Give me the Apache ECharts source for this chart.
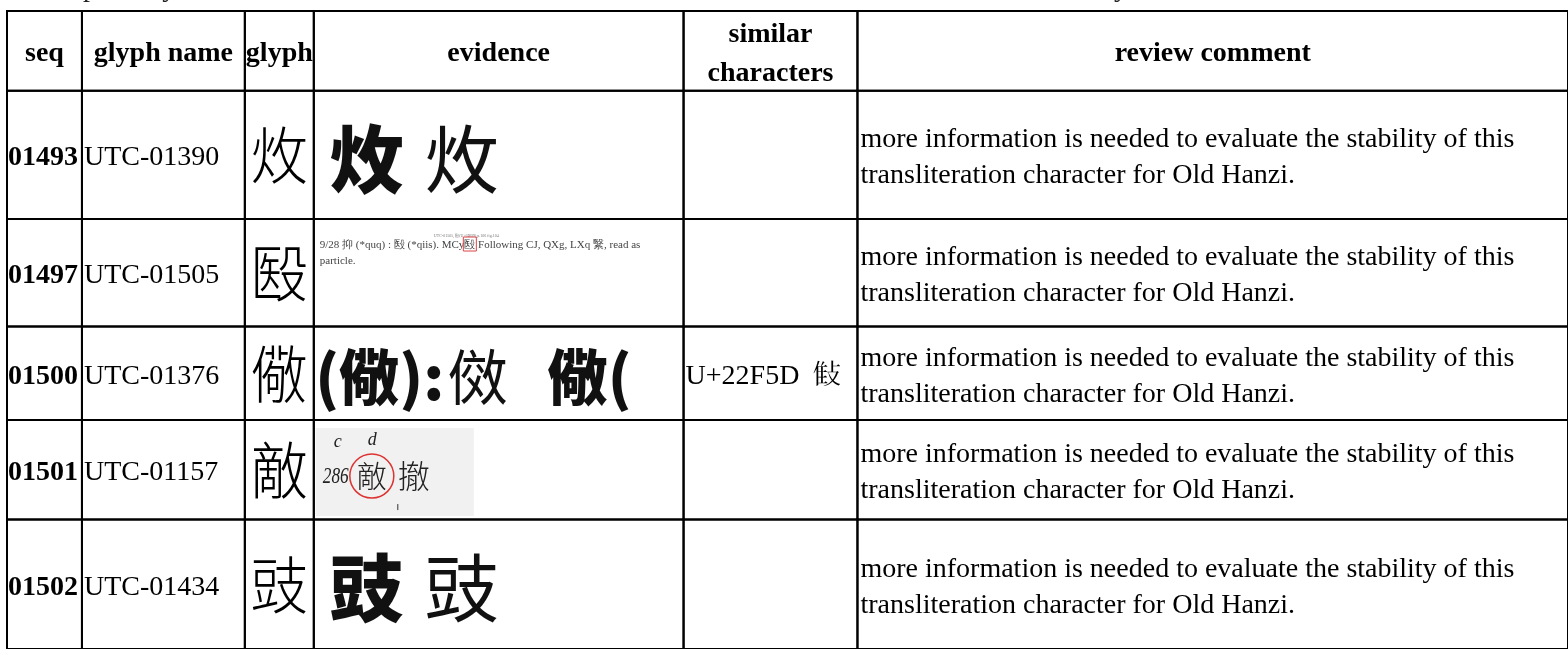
<!DOCTYPE html>
<html><head><meta charset="utf-8">
<script src="https://cdn.jsdelivr.net/npm/echarts@6/dist/echarts.min.js"></script>
<style>html,body{margin:0;padding:0;background:#fff;overflow:hidden}#c{width:1568px;height:649px}</style>
</head><body><div id="c"></div>
<script>
// ---- data ----
const headers = ['seq', 'glyph name', 'glyph', 'evidence', 'similar\ncharacters', 'review comment'];
const seqs = ['01493', '01497', '01500', '01501', '01502'];
const glyphNames = ['UTC-01390', 'UTC-01505', 'UTC-01376', 'UTC-01157', 'UTC-01434'];
const glyphs = ['炇', '殹', '儆', '敵', '豉'];
const evidencePieces = [['炇', '炇'], [], ['(儆):', '傚', '儆('], [], ['豉', '豉']];
const evidenceSnippet = ['', '9/28 抑 (*quq) : 殹 (*qiis). MCy殹 Following CJ, QXg, LXq 繄, read as\nparticle.', '', '', ''];
const snippetMark = ['', '9/28 抑 (*quq) : 殹 (*qiis). MCy', '', '', ''];
const snippetCaption = ['', 'UTC-01505, 殹(U+6BB9) p.106 fig.104', '', '', ''];
const scanTexts = ['', '', '', ['c', 'd', '286', '敵', '撤'], ''];
const similarChars = ['', '', 'U+22F5D  \u{22F5D}', '', ''];
const comments = [
  'more information is needed to evaluate the stability of this transliteration character for Old Hanzi.',
  'more information is needed to evaluate the stability of this transliteration character for Old Hanzi.',
  'more information is needed to evaluate the stability of this transliteration character for Old Hanzi.',
  'more information is needed to evaluate the stability of this transliteration character for Old Hanzi.',
  'more information is needed to evaluate the stability of this transliteration character for Old Hanzi.'
];
const aboveText = 'possibly the same character as the above: more information is needed to evaluate the stability';

// ---- layout (table units = px) ----
const colEdges = [0, 75, 238, 307, 677, 851, 1562];
const rowEdges = [0, 80, 209, 317, 411, 511, 641];
const evidencePieceOffsets = [[53, 148], [], [66, 164, 276], [], [53, 148]];
const evidencePieceBold = [[true, false], [], [true, false, true], [], [true, false]];

const SERIF = '"Liberation Serif", "Times New Roman", serif';
const CJK = '"Noto Sans CJK TC", "Noto Sans CJK SC", "Noto Sans CJK JP", sans-serif';
const MIX = '"Liberation Serif", "Noto Sans CJK TC", "Noto Sans CJK JP", serif';

const measureCtx = document.createElement('canvas').getContext('2d');
function textW(t, font) { measureCtx.font = font; return measureCtx.measureText(t).width; }

const cells = [];
for (let r = 0; r <= seqs.length; r++) for (let c = 0; c < headers.length; c++) cells.push([c, r]);

function renderCell(params, api) {
  const c = api.value(0), r = api.value(1);
  const p0 = api.coord([colEdges[c], rowEdges[r]]);
  const p1 = api.coord([colEdges[c + 1], rowEdges[r + 1]]);
  const x0 = p0[0], y0 = p0[1], w = p1[0] - p0[0], h = p1[1] - p0[1];
  const cx = x0 + w / 2, cy = y0 + h / 2 + 3;
  const ch = [];
  ch.push({ type: 'rect', shape: { x: x0, y: y0, width: w, height: h }, style: { fill: 'none', stroke: '#000', lineWidth: 2 }, z2: 10 });
  function txt(text, x, y, font, extra, el) {
    ch.push(Object.assign({ type: 'text', x: x, y: y, style: Object.assign({ text: text, font: font, fill: '#000', align: 'left', verticalAlign: 'middle', textAlign: 'left', textVerticalAlign: 'middle' }, extra || {}) }, el || {}));
  }
  if (r === 0) {
    txt(headers[c], cx, cy, 'bold 28px ' + SERIF, { align: 'center', textAlign: 'center', lineHeight: 39 });
  } else {
    const i = r - 1;
    if (c === 0) txt(seqs[i], x0 + 1, cy, 'bold 28px ' + SERIF);
    else if (c === 1) txt(glyphNames[i], x0 + 2, cy, '28px ' + SERIF);
    else if (c === 2) txt(glyphs[i], cx, cy - 2, '300 62px ' + CJK, { align: 'center', textAlign: 'center' }, { scaleX: 0.92 });
    else if (c === 3) {
      const pcs = evidencePieces[i];
      pcs.forEach(function (p, k) {
        txt(p, x0 + evidencePieceOffsets[i][k], cy + 1, (evidencePieceBold[i][k] ? '900 ' : '400 ') + (pcs.length > 2 ? 60 : 74) + 'px ' + CJK,
          { align: 'center', textAlign: 'center', fill: '#111' });
      });
      if (evidenceSnippet[i]) {
        const f = '11px ' + SERIF;
        txt(snippetCaption[i], x0 + 120, y0 + 17, '4px ' + SERIF, { fill: '#777' });
        txt(evidenceSnippet[i], x0 + 6, y0 + 34, f, { fill: '#444', lineHeight: 16 });
        const mx = x0 + 6 + textW(snippetMark[i], f);
        ch.push({ type: 'rect', shape: { x: mx - 1, y: y0 + 18, width: 13, height: 14 }, style: { fill: 'none', stroke: '#d44', lineWidth: 1 } });
      }
      const sc = scanTexts[i];
      if (sc) {
        ch.push({ type: 'rect', shape: { x: x0 + 2, y: y0 + 8, width: 158, height: 88 }, style: { fill: '#f1f1f1' } });
        txt(sc[0], x0 + 20, y0 + 22, 'italic 18px ' + SERIF, { fill: '#222' });
        txt(sc[1], x0 + 54, y0 + 20, 'italic 18px ' + SERIF, { fill: '#222' });
        txt(sc[2], x0 + 9, y0 + 57, 'italic 24px ' + SERIF, { fill: '#222' }, { scaleX: 0.72 });
        txt(sc[3], x0 + 58, y0 + 56, '300 30px ' + CJK, { fill: '#222', align: 'center', textAlign: 'center' });
        txt(sc[4], x0 + 100, y0 + 56, '300 32px ' + CJK, { fill: '#222', align: 'center', textAlign: 'center' });
        ch.push({ type: 'circle', shape: { cx: x0 + 58, cy: y0 + 56, r: 22 }, style: { fill: 'none', stroke: '#d33', lineWidth: 1.5 } });
        ch.push({ type: 'line', shape: { x1: x0 + 84, y1: y0 + 84, x2: x0 + 84, y2: y0 + 90 }, style: { stroke: '#333', lineWidth: 1 } });
      }
    }
    else if (c === 4) txt(similarChars[i], x0 + 2, cy, '28px ' + MIX);
    else if (c === 5) txt(comments[i], x0 + 3, cy, '28px ' + SERIF, { width: w - 10, overflow: 'break', lineHeight: 36 });
  }
  return { type: 'group', children: ch };
}

const chart = echarts.init(document.getElementById('c'), null, { renderer: 'canvas' });
chart.setOption({
  backgroundColor: '#fff',
  animation: false,
  title: { text: aboveText, left: 78, top: -30, textStyle: { fontFamily: SERIF, fontSize: 28, fontWeight: 'normal', color: '#222', lineHeight: 28 } },
  grid: { left: 7, top: 11, width: colEdges[colEdges.length - 1], height: rowEdges[rowEdges.length - 1], containLabel: false },
  xAxis: { type: 'value', min: 0, max: colEdges[colEdges.length - 1], show: false },
  yAxis: { type: 'value', min: 0, max: rowEdges[rowEdges.length - 1], inverse: true, show: false },
  series: [{ type: 'custom', coordinateSystem: 'cartesian2d', renderItem: renderCell, data: cells, clip: false, silent: true }]
});
</script>
</body></html>
